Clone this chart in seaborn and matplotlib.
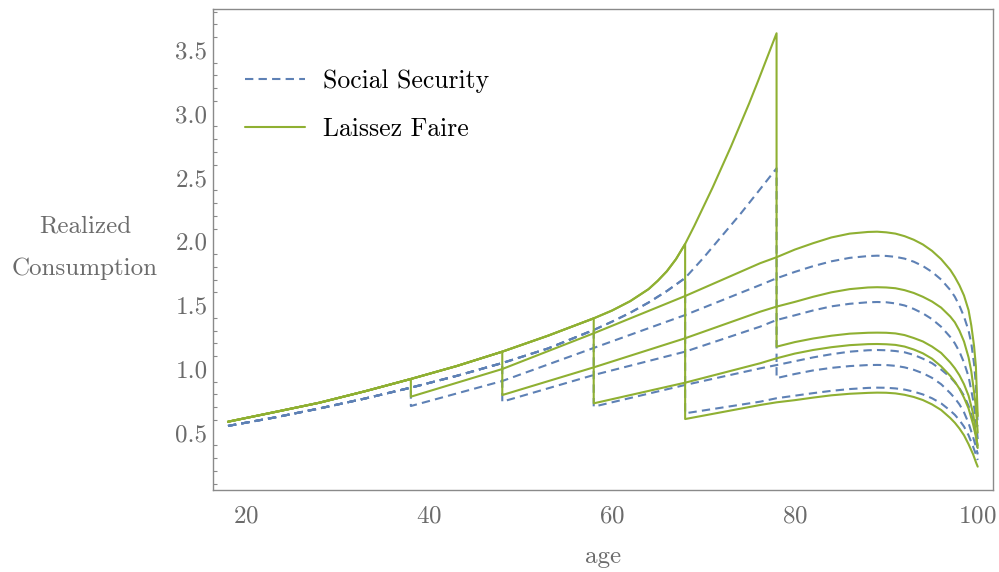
import numpy as np
import pandas as pd
import matplotlib
matplotlib.use("Agg")
import matplotlib.pyplot as plt
from matplotlib.lines import Line2D
from matplotlib.ticker import MultipleLocator, FormatStrFormatter
import seaborn as sns

# ---------------------------------------------------------------------------
# Consumption paths. Each realized path follows the "no-shock" path up to the
# age at which the shock hits, drops, and then follows its own branch to 100.
# ---------------------------------------------------------------------------
SHOCK_AGES = [38, 48, 58, 68, 78]

# Laissez Faire: path before any shock
lf_main_age = [18, 23, 28, 33, 38, 43, 48, 53, 58, 60, 62, 64, 65, 66, 67, 68,
               69, 70, 71, 72, 73, 74, 75, 76, 77, 78]
lf_main_val = [0.586, 0.660, 0.735, 0.825, 0.921, 1.022, 1.135, 1.260, 1.396, 1.457, 1.531, 1.625, 1.690, 1.765, 1.860, 1.979,
               2.120, 2.270, 2.420, 2.580, 2.740, 2.910, 3.080, 3.260, 3.445, 3.630]

# Laissez Faire: branches after the shock (first value = level right after the drop)
lf_b38_age = [38, 48, 58, 68, 76.2, 78, 80, 82, 84, 86, 88, 89, 90, 91, 92, 93, 94, 95, 96, 97,
              97.5, 98, 98.5, 99, 99.3, 99.6, 99.8, 100]
lf_b38_val = [0.782, 0.999, 1.279, 1.571, 1.828, 1.875, 1.935, 1.985, 2.030, 2.060, 2.073, 2.075, 2.070, 2.060, 2.040, 2.012, 1.975, 1.925, 1.860, 1.776,
              1.720, 1.655, 1.575, 1.460, 1.340, 1.180, 1.020, 0.630]
lf_b48_age = [48, 58, 68, 76.2, 78, 80, 82, 84, 86, 88, 89, 90, 91, 92, 93, 94, 95, 96, 97,
              97.5, 98, 98.5, 99, 99.3, 99.6, 99.8, 100]
lf_b48_val = [0.795, 1.012, 1.240, 1.448, 1.488, 1.525, 1.565, 1.600, 1.625, 1.638, 1.640, 1.638, 1.632, 1.617, 1.595, 1.565, 1.528, 1.480, 1.410,
              1.365, 1.300, 1.215, 1.090, 0.980, 0.820, 0.700, 0.500]
lf_b58_age = [58, 68, 76.2, 78, 80, 82, 84, 86, 88, 89, 90, 91, 92, 93, 94, 95, 96, 97,
              97.5, 98, 98.5, 99, 99.5, 99.8, 100]
lf_b58_val = [0.730, 0.892, 1.044, 1.083, 1.120, 1.148, 1.170, 1.186, 1.194, 1.195, 1.193, 1.188, 1.175, 1.152, 1.122, 1.080, 1.020, 0.945,
              0.900, 0.845, 0.775, 0.690, 0.565, 0.470, 0.400]
lf_b68_age = [68, 76.2, 78, 80, 82, 84, 86, 88, 89, 90, 91, 92, 93, 94, 95, 96, 97,
              97.5, 98, 98.5, 99, 99.5, 99.8, 100]
lf_b68_val = [0.607, 0.717, 0.738, 0.755, 0.775, 0.793, 0.805, 0.812, 0.814, 0.813, 0.808, 0.797, 0.780, 0.756, 0.722, 0.678, 0.615,
              0.578, 0.533, 0.480, 0.410, 0.330, 0.270, 0.234]
lf_b78_age = [78, 80, 82, 84, 86, 88, 89, 90, 91, 92, 93, 94, 95, 96, 97,
              97.5, 98, 98.5, 99, 99.5, 99.8, 100]
lf_b78_val = [1.174, 1.210, 1.238, 1.260, 1.276, 1.283, 1.284, 1.283, 1.278, 1.265, 1.242, 1.215, 1.175, 1.125, 1.050,
              1.005, 0.950, 0.880, 0.790, 0.650, 0.500, 0.380]

# Social Security: path before any shock
ss_main_age = [18, 23, 28, 33, 38, 43, 48, 53, 58, 60, 62, 64, 66, 68, 70, 72, 74, 76, 78]
ss_main_val = [0.553, 0.618, 0.690, 0.768, 0.853, 0.945, 1.046, 1.160, 1.305, 1.370, 1.440, 1.520, 1.610, 1.712, 1.870, 2.040, 2.210, 2.390, 2.572]

# Social Security: branches after the shock
ss_b38_age = [38, 48, 58, 68, 76.2, 78, 80, 82, 84, 86, 88, 89, 90, 91, 92, 93, 94, 95, 96, 97,
              97.5, 98, 98.5, 99, 99.3, 99.6, 99.8, 100]
ss_b38_val = [0.709, 0.905, 1.164, 1.422, 1.657, 1.710, 1.760, 1.805, 1.843, 1.870, 1.884, 1.887, 1.885, 1.878, 1.864, 1.840, 1.806, 1.760, 1.700, 1.618,
              1.565, 1.495, 1.410, 1.300, 1.200, 1.040, 0.880, 0.550]
ss_b48_age = [48, 58, 68, 76.2, 78, 80, 82, 84, 86, 88, 89, 90, 91, 92, 93, 94, 95, 96, 97,
              97.5, 98, 98.5, 99, 99.5, 99.8, 100]
ss_b48_val = [0.743, 0.952, 1.135, 1.331, 1.383, 1.420, 1.458, 1.490, 1.510, 1.522, 1.524, 1.522, 1.513, 1.497, 1.470, 1.435, 1.390, 1.330, 1.250,
              1.200, 1.135, 1.050, 0.940, 0.756, 0.600, 0.450]
ss_b58_age = [58, 68, 76.2, 78, 80, 82, 84, 86, 88, 89, 90, 91, 92, 93, 94, 95, 96, 97,
              97.5, 98, 98.5, 99, 99.5, 99.8, 100]
ss_b58_val = [0.704, 0.874, 1.004, 1.030, 1.060, 1.090, 1.115, 1.135, 1.146, 1.148, 1.146, 1.140, 1.130, 1.110, 1.080, 1.045, 0.995, 0.935,
              0.895, 0.848, 0.790, 0.710, 0.595, 0.480, 0.340]
ss_b68_age = [68, 76.2, 78, 80, 82, 84, 86, 88, 89, 90, 91, 92, 93, 94, 95, 96, 97,
              97.5, 98, 98.5, 99, 99.5, 99.8, 100]
ss_b68_val = [0.652, 0.743, 0.770, 0.790, 0.810, 0.828, 0.842, 0.851, 0.853, 0.852, 0.847, 0.838, 0.822, 0.800, 0.770, 0.730, 0.673,
              0.640, 0.598, 0.548, 0.480, 0.390, 0.330, 0.286]
ss_b78_age = [78, 80, 82, 84, 86, 88, 89, 90, 91, 92, 93, 94, 95, 96, 97,
              97.5, 98, 98.5, 99, 99.5, 99.8, 100]
ss_b78_val = [0.928, 0.960, 0.988, 1.008, 1.022, 1.030, 1.031, 1.030, 1.024, 1.012, 0.993, 0.966, 0.930, 0.880, 0.810,
              0.770, 0.722, 0.660, 0.575, 0.465, 0.390, 0.330]

POLICIES = ["Social Security", "Laissez Faire"]
COLORS = {"Social Security": "#5E81B5", "Laissez Faire": "#8FB032"}


def realized_paths(policy, main_age, main_val, branches):
    """Stitch the pre-shock path and each post-shock branch into one line."""
    rows = []
    for shock, (b_age, b_val) in zip(SHOCK_AGES, branches):
        ages = [a for a in main_age if a <= shock]
        vals = [v for a, v in zip(main_age, main_val) if a <= shock]
        ages += list(b_age)
        vals += list(b_val)
        for a, v in zip(ages, vals):
            rows.append({"age": a, "value": v, "policy": policy,
                         "path": f"{policy}-{shock}"})
    return rows


rows = realized_paths(
    "Social Security", ss_main_age, ss_main_val,
    [(ss_b38_age, ss_b38_val), (ss_b48_age, ss_b48_val), (ss_b58_age, ss_b58_val),
     (ss_b68_age, ss_b68_val), (ss_b78_age, ss_b78_val)])
rows += realized_paths(
    "Laissez Faire", lf_main_age, lf_main_val,
    [(lf_b38_age, lf_b38_val), (lf_b48_age, lf_b48_val), (lf_b58_age, lf_b58_val),
     (lf_b68_age, lf_b68_val), (lf_b78_age, lf_b78_val)])
df = pd.DataFrame(rows)

sns.set_theme(style="white")
plt.rcParams["font.family"] = ["cmr10"]
plt.rcParams["mathtext.fontset"] = "cm"
plt.rcParams["axes.formatter.use_mathtext"] = True

fig = plt.figure(figsize=(9.99, 5.72), dpi=100)
ax = fig.add_axes([213 / 999, 1 - 490 / 572, (992.7 - 213) / 999, (490 - 9) / 572])

LW = 1.5
DASH = (4, 2.5)
sns.lineplot(data=df, x="age", y="value", hue="policy", style="policy",
             units="path", estimator=None, sort=False,
             hue_order=POLICIES, style_order=POLICIES, palette=COLORS,
             dashes={"Social Security": DASH, "Laissez Faire": ""},
             linewidth=LW, legend=False, ax=ax)

ax.set_xlim(16.36, 101.64)
ax.set_ylim(0.051, 3.82)
ax.xaxis.set_major_locator(MultipleLocator(20))
ax.yaxis.set_major_locator(MultipleLocator(0.5))
ax.yaxis.set_minor_locator(MultipleLocator(0.1))
ax.yaxis.set_major_formatter(FormatStrFormatter("%.1f"))

TICK_GREY = "#6b6b6b"
for side in ["left", "bottom", "right", "top"]:
    ax.spines[side].set_color("#8a8a8a")
    ax.spines[side].set_linewidth(1.0)
ax.tick_params(axis="both", which="both", direction="in", colors="#8a8a8a",
               labelcolor=TICK_GREY, labelsize=18, top=False, right=False)
ax.tick_params(axis="x", which="major", length=5, width=1, pad=11)
ax.tick_params(axis="y", which="major", length=6, width=1, pad=4)
ax.tick_params(axis="y", which="minor", length=3, width=0.8, left=True)
ax.set_xlabel("")
ax.set_ylabel("")

fig.text(85 / 999, 1 - 248 / 572, "Realized\nConsumption", ha="center", va="center",
         fontsize=18, color=TICK_GREY, linespacing=2.15)
fig.text(603 / 999, 1 - 557 / 572, "age", ha="center", va="center",
         fontsize=18, color=TICK_GREY)

handles = [
    Line2D([], [], color=COLORS["Social Security"], lw=LW, dashes=DASH),
    Line2D([], [], color=COLORS["Laissez Faire"], lw=LW),
]
leg = ax.legend(handles, POLICIES, loc="upper left", bbox_to_anchor=(0.041, 0.874),
                frameon=False, fontsize=18.5, handlelength=2.35, handletextpad=0.7,
                labelspacing=0.95, borderpad=0, borderaxespad=0)
for t in leg.get_texts():
    t.set_color("black")

fig.savefig("out.png", dpi=100)
